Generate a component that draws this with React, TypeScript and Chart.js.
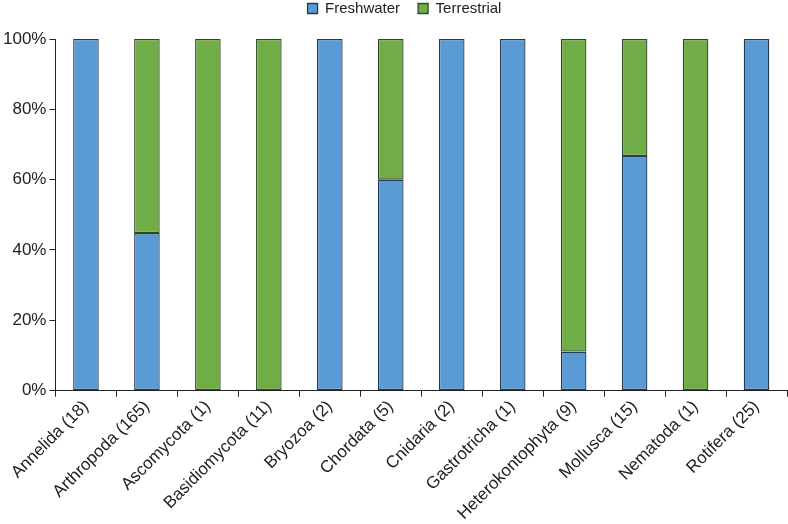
import React, { useEffect, useRef } from "react";
import { Chart, registerables } from "chart.js";

Chart.register(...registerables);

const categories = [
  "Annelida (18)",
  "Arthropoda (165)",
  "Ascomycota (1)",
  "Basidiomycota (11)",
  "Bryozoa (2)",
  "Chordata (5)",
  "Cnidaria (2)",
  "Gastrotricha (1)",
  "Heterokontophyta (9)",
  "Mollusca (15)",
  "Nematoda (1)",
  "Rotifera (25)",
];
const freshwater = [100, 44.8, 0, 0, 100, 60, 100, 100, 11.1, 66.7, 0, 100];
const terrestrial = [0, 55.2, 100, 100, 0, 40, 0, 0, 88.9, 33.3, 100, 0];
const yTicks = [0, 20, 40, 60, 80, 100];

const legendTweak = {
  id: "legendTweak",
  beforeLayout(chart: any) {
    const lg = chart.legend;
    if (lg && !lg._tweaked) {
      const orig = lg.fit;
      lg.fit = function () {
        orig.call(this);
        this.height += 13;
      };
      lg._tweaked = true;
    }
  },
  afterLayout(chart: any) {
    if (chart.legend) {
      chart.legend.left += 11;
      chart.legend.right += 11;
    }
  },
};

export default function App() {
  const ref = useRef<HTMLCanvasElement>(null);
  useEffect(() => {
    if (!ref.current) return;
    const font = { family: "Liberation Sans, Arial, sans-serif", size: 17 };
    const chart = new Chart(ref.current, {
      type: "bar",
      data: {
        labels: categories,
        datasets: [
          {
            label: "Freshwater",
            data: freshwater,
            backgroundColor: "#5B9BD5",
            borderColor: "#243a52",
            borderWidth: 1.3,
            borderSkipped: false,
            barPercentage: 0.42,
            categoryPercentage: 1,
          },
          {
            label: "Terrestrial",
            data: terrestrial,
            backgroundColor: "#70AD47",
            borderColor: "#304a26",
            borderWidth: 1.3,
            borderSkipped: false,
            barPercentage: 0.42,
            categoryPercentage: 1,
          },
        ],
      },
      plugins: [legendTweak],
      options: {
        animation: false,
        responsive: true,
        maintainAspectRatio: false,
        layout: { padding: { left: 0, right: 1, top: -17, bottom: 0 } },
        plugins: {
          legend: {
            position: "top",
            labels: {
              boxWidth: 10,
              boxHeight: 10,
              color: "#222",
              font: { family: "Liberation Sans, Arial, sans-serif", size: 15 },
              padding: 18,
            },
          },
          tooltip: { enabled: false },
        },
        scales: {
          x: {
            stacked: true,
            grid: {
              offset: true,
              drawOnChartArea: false,
              drawTicks: true,
              tickLength: 6,
              color: "#222",
            },
            border: { display: true, color: "#222", width: 1 },
            ticks: {
              color: "#222",
              font,
              minRotation: 45,
              maxRotation: 45,
              autoSkip: false,
              padding: 0,
            },
          },
          y: {
            stacked: true,
            min: 0,
            max: 100,
            afterBuildTicks: (axis: any) => {
              axis.ticks = yTicks.map((v) => ({ value: v }));
            },
            grid: {
              drawOnChartArea: false,
              drawTicks: true,
              tickLength: 6,
              color: "#222",
            },
            border: { display: true, color: "#222", width: 1 },
            ticks: {
              color: "#222",
              font,
              padding: 3,
              callback: (v: any) => v + "%",
            },
          },
        },
      },
    });
    return () => chart.destroy();
  }, []);
  return (
    <div style={{ position: "fixed", left: 0, top: 0, width: 788, height: 524 }}>
      <canvas ref={ref} />
    </div>
  );
}
